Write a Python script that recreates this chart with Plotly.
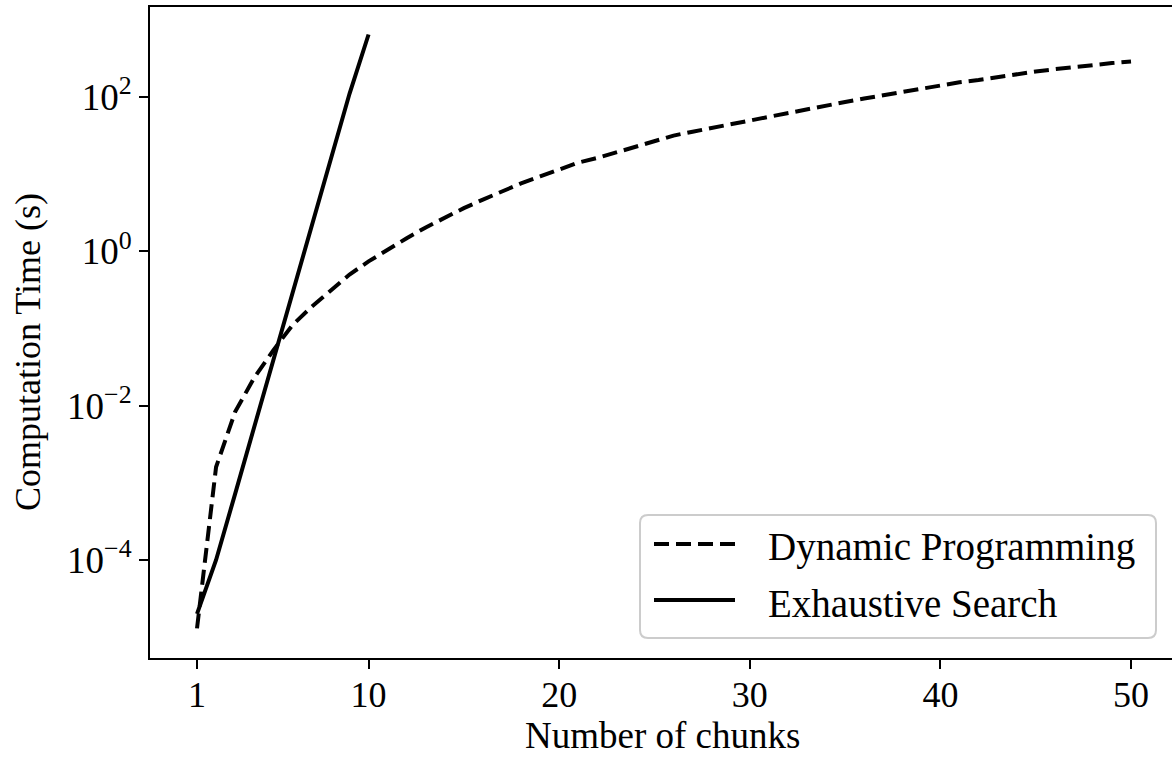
import plotly.graph_objects as go

# Computation time (seconds) versus number of chunks
chunks_dp = list(range(1, 51))
time_dp = [1.3e-5, 1.6e-3, 8.3e-3, 0.023, 0.052, 0.11, 0.19, 0.31, 0.50, 0.74,
           1.05, 1.48, 2.04, 2.75, 3.63, 4.68, 6.03, 7.59, 9.33, 11.5,
           14.1, 16.2, 19.1, 22.4, 26.3, 31.6, 35.5, 39.8, 44.7, 50.1,
           55.6, 61.7, 69.2, 77.6, 86.1, 95.5, 105, 117, 129, 141,
           155, 166, 182, 200, 214, 229, 245, 263, 275, 288]

chunks_es = list(range(1, 11))
time_es = [2.0e-5, 1.0e-4, 7.2e-4, 5.2e-3, 0.041, 0.28, 2.0, 15, 110, 645]

x_ticks = [1, 10, 20, 30, 40, 50]
y_ticks = [1e-4, 1e-2, 1, 100]
y_ticktext = ["10<sup>−4</sup>", "10<sup>−2</sup>", "10<sup>0</sup>", "10<sup>2</sup>"]

series_names = ["Dynamic Programming", "Exhaustive Search"]
x_title = "Number of chunks"
y_title = "Computation Time (s)"

FONT = "Liberation Serif, Times New Roman, serif"
TICK_FS = 37
LABEL_FS = 39
W, H = 1172, 757
ML, MR, MT, MB = 150, 0, 7, 99

fig = go.Figure()
fig.add_trace(go.Scatter(x=chunks_dp, y=time_dp, mode="lines", name=series_names[0],
                         line=dict(color="black", width=4, dash="15px,7px")))
fig.add_trace(go.Scatter(x=chunks_es, y=time_es, mode="lines", name=series_names[1],
                         line=dict(color="black", width=4)))

pw = W - ML - MR
ph = H - MT - MB


def px_to_paper(px, py):
    return (px - ML) / pw, (H - MB - py) / ph


# legend frame with rounded corners
bx0, by0 = px_to_paper(640, 638)
bx1, by1 = px_to_paper(1156, 515)
rx, ry = 8 / pw, 8 / ph
path = (f"M{bx0+rx},{by0} L{bx1-rx},{by0} Q{bx1},{by0} {bx1},{by0+ry} "
        f"L{bx1},{by1-ry} Q{bx1},{by1} {bx1-rx},{by1} "
        f"L{bx0+rx},{by1} Q{bx0},{by1} {bx0},{by1-ry} "
        f"L{bx0},{by0+ry} Q{bx0},{by0} {bx0+rx},{by0} Z")
shapes = [dict(type="path", path=path, xref="paper", yref="paper",
               line=dict(color="#cccccc", width=2),
               fillcolor="rgba(255,255,255,0.8)", layer="above")]

annotations = []
rows = [(544, "15px,7px"), (600, "solid")]
for (row_y, dash), name in zip(rows, series_names):
    lx0, ly = px_to_paper(654, row_y)
    lx1, _ = px_to_paper(735, row_y)
    shapes.append(dict(type="line", xref="paper", yref="paper",
                       x0=lx0, x1=lx1, y0=ly, y1=ly,
                       line=dict(color="black", width=4, dash=dash)))
    tx, ty = px_to_paper(766, row_y + 3)
    annotations.append(dict(text=name, xref="paper", yref="paper", x=tx, y=ty,
                            xanchor="left", yanchor="middle", showarrow=False,
                            font=dict(family=FONT, size=LABEL_FS, color="black")))

# axis titles
ax_x, ax_y = px_to_paper(662, H)
annotations.append(dict(text=x_title, xref="paper", yref="paper", x=ax_x, y=ax_y,
                        xanchor="center", yanchor="bottom", showarrow=False,
                        borderpad=0,
                        font=dict(family=FONT, size=37, color="black")))
ay_x, ay_y = px_to_paper(28, 352)
annotations.append(dict(text=y_title, xref="paper", yref="paper", x=ay_x, y=ay_y,
                        xanchor="center", yanchor="middle", showarrow=False,
                        textangle=-90,
                        font=dict(family=FONT, size=36, color="black")))

fig.update_layout(
    width=W, height=H,
    margin=dict(l=ML, r=MR, t=MT, b=MB),
    paper_bgcolor="white", plot_bgcolor="white",
    showlegend=False,
    font=dict(family=FONT, size=TICK_FS, color="black"),
    shapes=shapes,
    annotations=annotations,
)

fig.update_xaxes(
    range=[-1.466, 52.15],
    tickmode="array", tickvals=x_ticks, ticktext=[str(v) for v in x_ticks],
    ticks="outside", ticklen=9, tickwidth=2, tickcolor="black",
    ticklabelstandoff=-5,
    showline=True, linewidth=2, linecolor="black", mirror=True,
    showgrid=False, zeroline=False,
    tickfont=dict(family=FONT, size=36),
)
fig.update_yaxes(
    type="log", range=[-5.27, 3.166],
    tickmode="array", tickvals=y_ticks, ticktext=y_ticktext,
    ticks="outside", ticklen=9, tickwidth=2, tickcolor="black",
    showline=True, linewidth=2, linecolor="black", mirror=False,
    showgrid=False, zeroline=False,
    tickfont=dict(family=FONT, size=TICK_FS),
)

fig.write_html("out.html")
